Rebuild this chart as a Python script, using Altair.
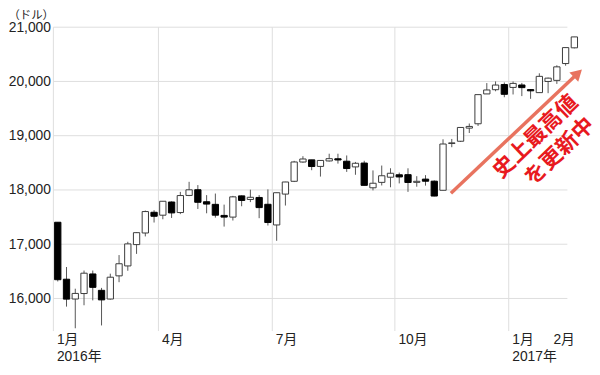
import altair as alt
import pandas as pd

# Weekly candles (week start), Dow Jones, Jan 2016 - Feb 2017
weeks = ["2016-01-04", "2016-01-11", "2016-01-19", "2016-01-25", "2016-02-01", "2016-02-08",
         "2016-02-16", "2016-02-22", "2016-02-29", "2016-03-07", "2016-03-14", "2016-03-21",
         "2016-03-28", "2016-04-04", "2016-04-11", "2016-04-18", "2016-04-25", "2016-05-02",
         "2016-05-09", "2016-05-16", "2016-05-23", "2016-05-31", "2016-06-06", "2016-06-13",
         "2016-06-20", "2016-06-27", "2016-07-05", "2016-07-11", "2016-07-18", "2016-07-25",
         "2016-08-01", "2016-08-08", "2016-08-15", "2016-08-22", "2016-08-29", "2016-09-06",
         "2016-09-12", "2016-09-19", "2016-09-26", "2016-10-03", "2016-10-10", "2016-10-17",
         "2016-10-24", "2016-10-31", "2016-11-07", "2016-11-14", "2016-11-21", "2016-11-28",
         "2016-12-05", "2016-12-12", "2016-12-19", "2016-12-27", "2017-01-03", "2017-01-09",
         "2017-01-17", "2017-01-23", "2017-01-30", "2017-02-06", "2017-02-13", "2017-02-21"]
opens = [17405, 16355, 15990, 16091, 16452, 16150, 15990, 16417, 16600, 16993, 17207, 17589,
         17535, 17778, 17584, 17899, 18004, 17783, 17735, 17531, 17500, 17891, 17825, 17862,
         17736, 17355, 17924, 18160, 18515, 18555, 18434, 18535, 18575, 18530, 18425, 18496,
         18040, 18140, 18235, 18280, 18282, 18140, 18200, 18162, 17994, 18856, 18898, 19140,
         19220, 19770, 19848, 19943, 19890, 19935, 19850, 19794, 20000, 20020, 20330, 20620]
highs = [17405, 16580, 16180, 16515, 16515, 16195, 16457, 16800, 17045, 17220, 17620, 17627,
         17792, 17790, 17965, 18150, 18090, 17905, 17934, 17730, 17891, 17899, 18005, 17905,
         18011, 17949, 18150, 18537, 18622, 18555, 18544, 18668, 18668, 18636, 18517, 18538,
         18360, 18450, 18400, 18320, 18399, 18254, 18273, 18176, 18934, 18940, 19152, 19225,
         19757, 19970, 20000, 19981, 19999, 19973, 19860, 20150, 20071, 20298, 20624, 20821]
lows = [16314, 15850, 15451, 15875, 15965, 15503, 15979, 16300, 16511, 16822, 17144, 17400,
        17460, 17484, 17555, 17886, 17650, 17570, 17490, 17325, 17437, 17700, 17776, 17480,
        17345, 17063, 17713, 18146, 18503, 18364, 18247, 18524, 18486, 18333, 18280, 18085,
        17992, 18083, 18050, 18121, 17965, 18060, 18080, 17883, 17994, 18788, 18885, 19050,
        19180, 19770, 19819, 19709, 19760, 19730, 19680, 19788, 19784, 19955, 20290, 20610]
closes = [16346, 15988, 16093, 16466, 16205, 15974, 16392, 16640, 17006, 17213, 17602, 17515,
          17792, 17577, 17897, 18003, 17773, 17740, 17535, 17500, 17873, 17807, 17865, 17675,
          17400, 17949, 18147, 18516, 18571, 18432, 18544, 18577, 18553, 18395, 18492, 18085,
          18124, 18262, 18308, 18240, 18138, 18160, 18161, 17888, 18847, 18868, 19152, 19171,
          19757, 19843, 19934, 19763, 19964, 19886, 19827, 20094, 20061, 20269, 20624, 20821]

# Axis: band edge (week index) of the first trading week of each month
month_labels = [["1月", "2016年"], ["4月"], ["7月"], ["10月"], ["1月", "2017年"], ["2月"]]
month_pos = [-0.5, 11.5, 24.5, 38.5, 51.5, 56.2]
grid_months = [-0.5, 11.5, 24.5, 38.5, 51.5]
y_ticks = [16000, 17000, 18000, 19000, 20000, 21000]

annot_text = ["史上最高値", "を更新中"]
annot_x = [54.56, 57.3]
annot_y = [18985, 18713]
arrow_from = (44.9, 17940)
arrow_to = (59.4, 20150)

df = pd.DataFrame({"week": weeks, "open": opens, "high": highs, "low": lows, "close": closes})
df["i"] = range(len(df))
df["up"] = df["close"] >= df["open"]
df["lo"] = df[["open", "close"]].min(axis=1)
df["hi"] = df[["open", "close"]].max(axis=1)
df.loc[df["hi"] - df["lo"] < 12, "hi"] = df["lo"] + 12
df["x1"] = df["i"] - 0.36
df["x2"] = df["i"] + 0.36

JP = "Liberation Sans, Arial, Noto Sans CJK JP, sans-serif"
GRID = "#dddddd"
TEXT = "#222222"

xs = alt.Scale(domain=[-0.5, 60], nice=False, zero=False)
ys = alt.Scale(domain=[15400, 21000], nice=False, zero=False)

label_pos = [p + 0.35 for p in month_pos]  # labels sit just right of their month line
expr_parts = []
for pos, lab in zip(label_pos, month_labels):
    arr = "[" + ",".join("'" + s + "'" for s in lab) + "]"
    expr_parts.append(f"abs(datum.value - ({pos:.3f})) < 0.01 ? {arr} : ")
label_expr = "".join(expr_parts) + "''"

xaxis = alt.Axis(values=label_pos, labelExpr=label_expr, grid=False, domain=False, ticks=False,
                 labelAlign="left", labelPadding=2, labelFontSize=14, labelFont=JP,
                 labelColor=TEXT, labelLineHeight=17, labelOverlap=False, labelBound=False,
                 labelFlush=False, title=None, labelBaseline="top")
yaxis = alt.Axis(values=y_ticks, format=",.0f", grid=False, domain=False, ticks=False,
                 labelFontSize=14, labelFont=JP, labelPadding=3, labelColor=TEXT,
                 title="（ドル）", titleAngle=0, titleAlign="left", titleBaseline="top",
                 titleX=-46, titleY=-18, titleFontSize=11.5, titleFont=JP,
                 titleFontWeight="normal", titleColor=TEXT)

X = lambda f: alt.X(f, scale=xs, axis=xaxis)
Y = lambda f: alt.Y(f, scale=ys, axis=yaxis)

hgrid = alt.Chart(pd.DataFrame({"v": y_ticks, "a": -0.5, "b": 58.2})).mark_rule(
    color=GRID, strokeWidth=1).encode(x=X("a:Q"), x2="b:Q", y=Y("v:Q"))
vgrid = alt.Chart(pd.DataFrame({"m": grid_months, "lo": 15400, "hi": 21000})).mark_rule(
    color=GRID, strokeWidth=1).encode(x=X("m:Q"), y=Y("lo:Q"), y2="hi:Q")

wicks = alt.Chart(df).mark_rule(color="#555555", strokeWidth=1).encode(
    x=X("i:Q"), y=Y("low:Q"), y2="high:Q")
bodies = alt.Chart(df).mark_rect(strokeWidth=1).encode(
    x=X("x1:Q"), x2="x2:Q", y=Y("lo:Q"), y2="hi:Q",
    fill=alt.condition("datum.up", alt.value("#ffffff"), alt.value("#000000")),
    stroke=alt.condition("datum.up", alt.value("#3a3a3a"), alt.value("#000000")))

arrow_df = pd.DataFrame({"x": [arrow_from[0]], "y": [arrow_from[1]],
                         "x2": [arrow_to[0]], "y2": [arrow_to[1]]})
arrow_line = alt.Chart(arrow_df).mark_rule(color="#e8735f", strokeWidth=3.5).encode(
    x=X("x:Q"), y=Y("y:Q"), x2="x2:Q", y2="y2:Q")
arrow_head = alt.Chart(arrow_df).mark_point(shape="triangle-up", filled=True, color="#e8735f",
                                            opacity=1, size=170, angle=46.6).encode(
    x=X("x2:Q"), y=Y("y2:Q"))

annot = alt.Chart(pd.DataFrame({"t": annot_text, "x": annot_x, "y": annot_y})).mark_text(
    angle=316, fontSize=22, fontWeight="bold", color="#e8191e",
    font="Noto Sans CJK JP", align="center", baseline="middle").encode(
    x=X("x:Q"), y=Y("y:Q"), text="t:N")

chart = alt.layer(hgrid, vgrid, wicks, bodies, arrow_line, arrow_head, annot).properties(
    width=537, height=308,
    autosize=alt.AutoSizeParams(type="none"),
    padding={"left": 46, "top": 17, "right": 9, "bottom": 34},
).configure_view(stroke=None)

chart.save("out.html", embed_options={"renderer": "svg", "actions": False})
